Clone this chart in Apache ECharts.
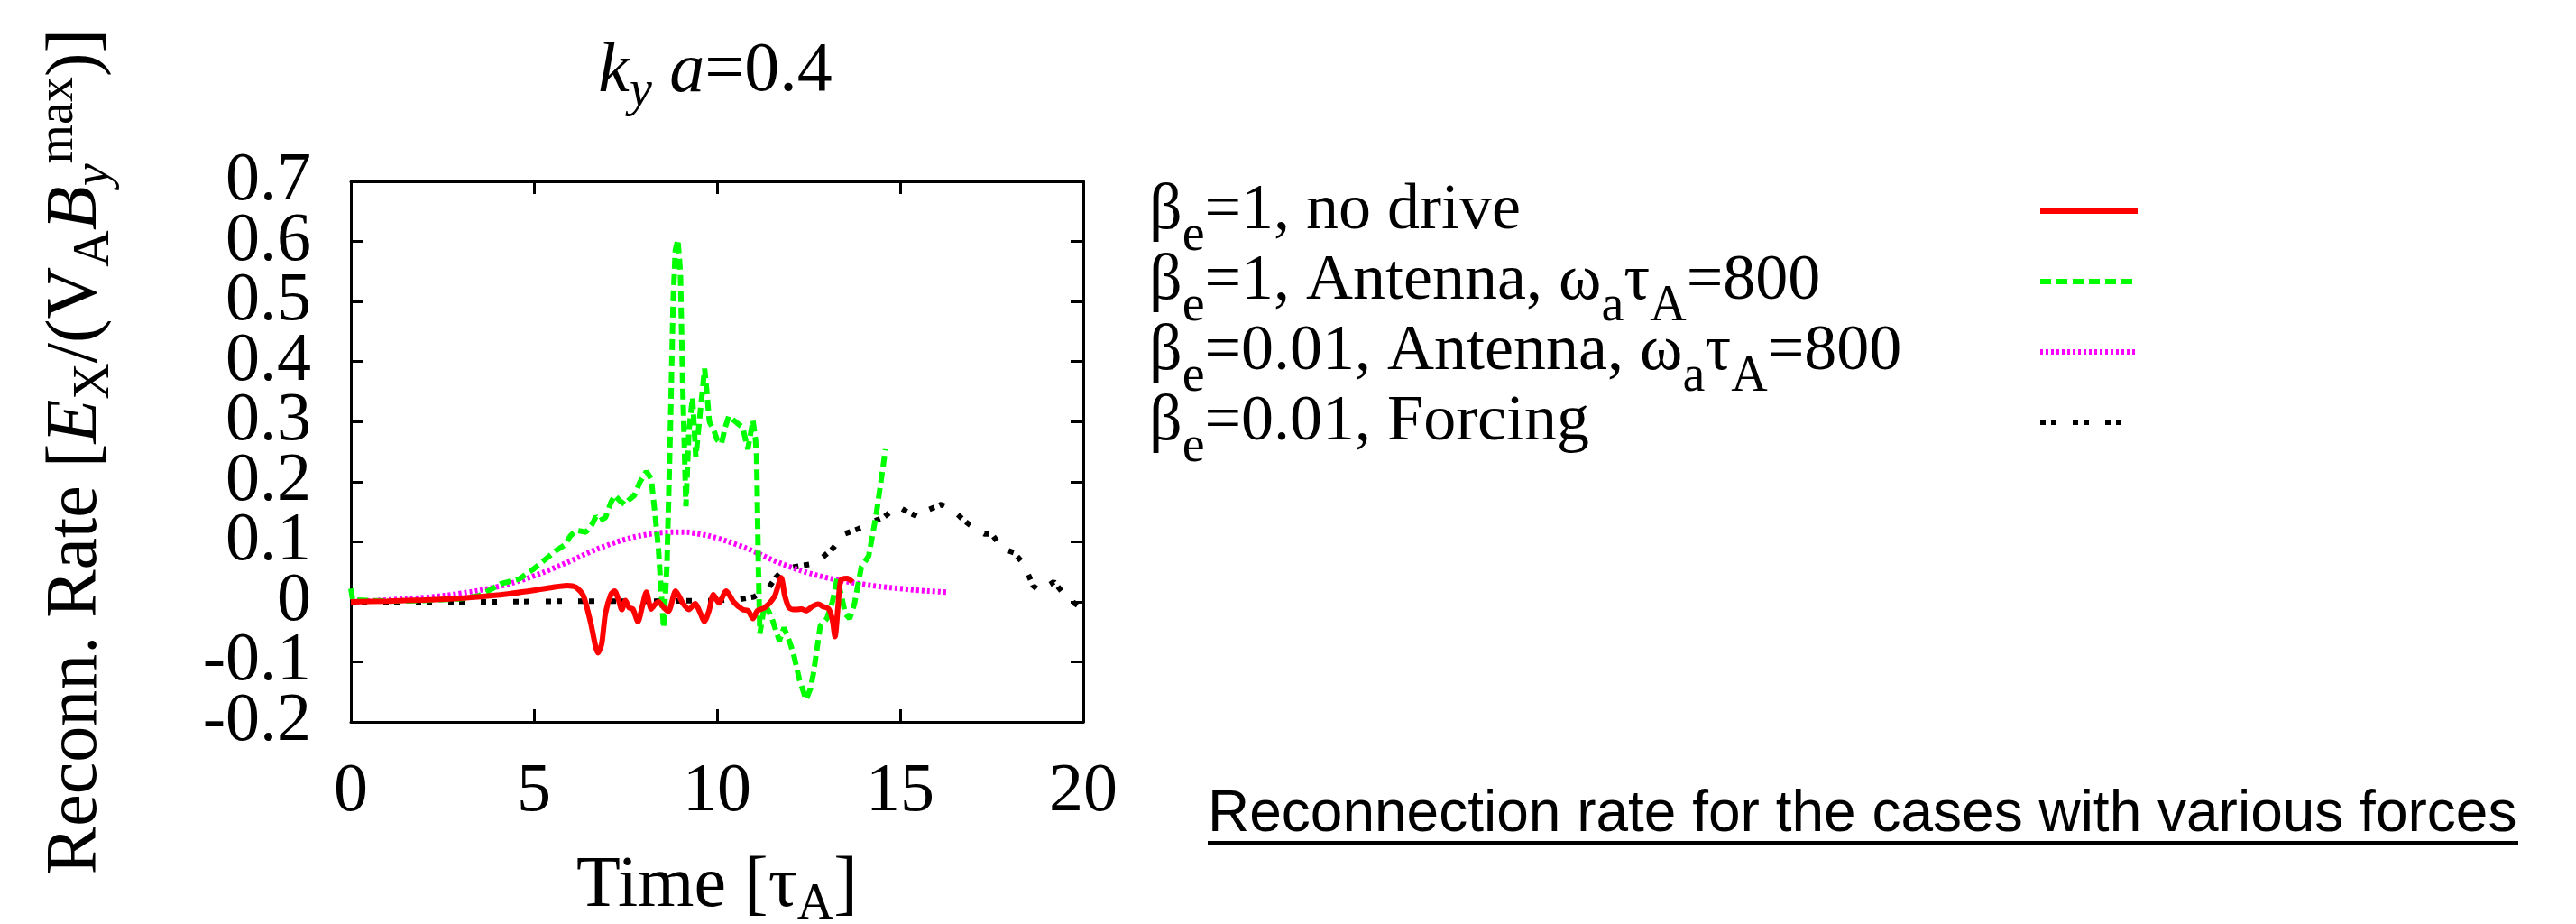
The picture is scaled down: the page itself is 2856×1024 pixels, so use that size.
<!DOCTYPE html>
<html>
<head>
<meta charset="utf-8">
<script src="https://cdn.jsdelivr.net/npm/echarts@6/dist/echarts.min.js"></script>
<style>
  html, body { margin: 0; padding: 0; background: #fff; }
  #chart { width: 2856px; height: 1024px; }
</style>
</head>
<body>
<div id="chart"></div>
<script>
// series names (legend order)
var seriesNames = [
  "βe=1, no drive",
  "βe=1, Antenna, ωaτA=800",
  "βe=0.01, Antenna, ωaτA=800",
  "βe=0.01, Forcing"
];

// [time (tau_A), reconnection rate]
var noDrive = [
  [0, 0], [1, 0.001], [2, 0.003], [3, 0.006], [4, 0.011], [5, 0.019], [5.5, 0.024],
  [5.9, 0.027], [6.15, 0.024], [6.35, 0.01], [6.55, -0.035], [6.75, -0.085], [6.85, -0.07],
  [6.95, -0.02], [7.1, 0.012], [7.2, 0.018], [7.3, 0.005], [7.4, -0.013], [7.5, 0.002],
  [7.6, -0.01], [7.7, -0.012], [7.84, -0.033], [7.95, -0.01], [8.07, 0.016], [8.2, -0.012],
  [8.3, -0.005], [8.4, 0.0], [8.55, -0.01], [8.67, -0.016], [8.87, 0.018], [9.0, 0.005],
  [9.06, -0.002], [9.23, -0.013], [9.4, -0.003], [9.55, -0.02], [9.65, -0.033], [9.78, -0.015],
  [9.9, 0.012], [10.05, -0.002], [10.25, 0.018], [10.45, 0.0], [10.7, -0.013], [10.85, -0.015],
  [10.98, -0.028], [11.1, -0.015], [11.3, -0.01], [11.57, 0.009], [11.75, 0.04], [11.85, 0.01],
  [11.97, -0.01], [12.16, -0.013], [12.3, -0.012], [12.43, -0.015], [12.6, -0.008], [12.76, -0.004],
  [12.9, -0.008], [13.05, -0.012], [13.15, -0.03], [13.22, -0.058], [13.3, -0.01], [13.38, 0.036],
  [13.55, 0.039], [13.7, 0.033]
];

var antennaHighBeta = [
  [0, 0.022], [0.05, 0.003], [1, 0.001], [2, 0.002], [3, 0.005], [3.5, 0.01], [4.1, 0.03],
  [4.6, 0.038], [5.0, 0.055], [5.3, 0.07], [5.6, 0.085], [5.83, 0.094], [6.0, 0.11], [6.16, 0.119],
  [6.42, 0.116], [6.6, 0.13], [6.69, 0.142], [6.8, 0.135], [6.95, 0.14], [7.1, 0.165], [7.2, 0.177],
  [7.35, 0.168], [7.48, 0.162], [7.6, 0.17], [7.74, 0.177], [7.9, 0.2], [8.07, 0.217], [8.2, 0.205],
  [8.3, 0.15], [8.4, 0.088], [8.47, 0.02], [8.54, -0.043], [8.63, 0.058], [8.73, 0.302], [8.8, 0.5],
  [8.86, 0.585], [8.93, 0.603], [9.0, 0.547], [9.06, 0.364], [9.15, 0.159], [9.23, 0.284],
  [9.33, 0.34], [9.42, 0.241], [9.53, 0.309], [9.66, 0.388], [9.72, 0.35], [9.79, 0.3], [9.92, 0.284],
  [10.0, 0.27], [10.12, 0.263], [10.22, 0.29], [10.32, 0.309], [10.5, 0.3], [10.7, 0.29],
  [10.84, 0.254], [10.98, 0.302], [11.05, 0.27], [11.08, 0.241], [11.13, 0.05], [11.17, -0.053],
  [11.3, -0.004], [11.4, -0.015], [11.5, -0.028], [11.7, -0.065], [11.83, -0.043], [12.0, -0.07],
  [12.1, -0.09], [12.25, -0.13], [12.43, -0.163], [12.55, -0.145], [12.63, -0.12], [12.82, -0.04],
  [13.0, -0.028], [13.15, 0.0], [13.28, 0.039], [13.4, 0.009], [13.5, -0.02], [13.62, -0.028],
  [13.75, -0.004], [13.94, 0.058], [14.14, 0.076], [14.34, 0.143], [14.47, 0.198], [14.6, 0.254]
];

var antennaLowBeta = [
  [0, 0.0], [1, 0.003], [2, 0.007], [3, 0.014], [4, 0.025], [4.5, 0.033], [5, 0.043], [5.5, 0.055],
  [6, 0.068], [6.5, 0.082], [7, 0.094], [7.5, 0.104], [8, 0.111], [8.5, 0.115], [9, 0.116],
  [9.5, 0.113], [10, 0.106], [10.5, 0.096], [11, 0.084], [11.5, 0.07], [12, 0.058], [12.5, 0.048],
  [13, 0.04], [13.5, 0.034], [14, 0.029], [14.5, 0.025], [15, 0.022], [15.5, 0.019], [16, 0.017],
  [16.3, 0.016]
];

var forcing = [
  [0, 0], [2, 0], [4, 0.0], [6, 0.001], [8, 0.001], [10, 0.002], [10.6, 0.004], [11, 0.008],
  [11.37, 0.02], [11.6, 0.04], [11.83, 0.055], [12.3, 0.06], [12.69, 0.064], [12.9, 0.075],
  [13.15, 0.088], [13.48, 0.113], [13.88, 0.122], [14.27, 0.134], [14.54, 0.14], [14.93, 0.159],
  [15.13, 0.152], [15.53, 0.14], [15.73, 0.152], [16.12, 0.162], [16.45, 0.152], [16.77, 0.134],
  [16.9, 0.128], [17.3, 0.113], [17.5, 0.113], [17.8, 0.088], [18.1, 0.082], [18.36, 0.064],
  [18.63, 0.027], [18.8, 0.018], [19.2, 0.033], [19.4, 0.018], [19.7, 0.0], [19.95, -0.01]
];

// axis ranges and tick labels
var xMin = 0, xMax = 20, xStep = 5;
var yMin = -0.2, yMax = 0.7, yStep = 0.1;
// y tick labels are split over two label-axes so ECharts does not drop neighbours of min/max
var yTicksA = [-0.2, 0, 0.2, 0.4, 0.6];
var yTicksB = [-0.1, 0.1, 0.3, 0.5, 0.7];

var SERIF = '"Liberation Serif", "DejaVu Serif", serif';

// legend text with sub/superscripts (rich text)
var legendRich = {};
legendRich[seriesNames[0]] = "{n|β}{s|e}{n|=1, no drive}";
legendRich[seriesNames[1]] = "{n|β}{s|e}{n|=1, Antenna, ω}{s|a}{n|τ}{s|A}{n|=800}";
legendRich[seriesNames[2]] = "{n|β}{s|e}{n|=0.01, Antenna, ω}{s|a}{n|τ}{s|A}{n|=800}";
legendRich[seriesNames[3]] = "{n|β}{s|e}{n|=0.01, Forcing}";

var myChart = echarts.init(document.getElementById("chart"));

function fmtY(v) {
  return Math.abs(v) < 1e-9 ? "0" : (Math.round(v * 10) / 10).toFixed(1);
}

var tickCommon = { show: true, inside: true, length: 14, lineStyle: { color: "#000", width: 3 } };
var lineCommon = { show: true, onZero: false, lineStyle: { color: "#000", width: 3 } };
var yLabelStyle = { margin: 44, color: "#000", fontFamily: SERIF, fontSize: 76, formatter: fmtY, hideOverlap: false };

var option = {
  backgroundColor: "#fff",
  animation: false,
  title: [
    {
      text: "{i|k}{is|y}{n| }{i|a}{n|=0.4}",
      left: 793,
      top: 30,
      textAlign: "center",
      padding: 0,
      textStyle: {
        fontWeight: "normal",
        rich: {
          i: { fontFamily: SERIF, fontStyle: "italic", fontWeight: "normal", fontSize: 78, lineHeight: 100, color: "#000" },
          is: { fontFamily: SERIF, fontStyle: "italic", fontWeight: "normal", fontSize: 56, lineHeight: 50, verticalAlign: "bottom", color: "#000" },
          n: { fontFamily: SERIF, fontWeight: "normal", fontSize: 78, lineHeight: 100, color: "#000" }
        }
      }
    },
    {
      text: "Reconnection rate for the cases with various forces",
      left: 1339,
      top: 871,
      padding: 0,
      textStyle: { fontFamily: '"Liberation Sans", Arial, sans-serif', fontSize: 64, fontWeight: "normal", color: "#000" }
    }
  ],
  graphic: [
    { type: "line", shape: { x1: 1339, y1: 934, x2: 2792, y2: 934 }, style: { stroke: "#000", lineWidth: 4 } }
  ],
  legend: {
    orient: "vertical",
    align: "right",
    left: 1274,
    top: 196,
    padding: 0,
    itemGap: -16,
    itemWidth: 108,
    itemHeight: 20,
    selectedMode: false,
    itemStyle: { opacity: 0 },
    lineStyle: { width: 6 },
    data: seriesNames,
    formatter: function (name) { return legendRich[name]; },
    textStyle: {
      width: 983,
      fontFamily: SERIF,
      fontSize: 72,
      lineHeight: 76,
      color: "#000",
      rich: {
        n: { fontFamily: SERIF, fontSize: 72, lineHeight: 76, align: "left", color: "#000" },
        s: { fontFamily: SERIF, fontSize: 56, lineHeight: 56, padding: [28, 0, -28, 0], verticalAlign: "middle", align: "left", color: "#000" }
      }
    }
  },
  grid: { left: 389, right: 1655, top: 201, bottom: 224, outerBoundsMode: "none" },
  xAxis: [
    {
      type: "value",
      min: xMin, max: xMax, interval: xStep,
      name: "{n|Time [}{n|τ}{s|A}{n|]}",
      nameLocation: "middle",
      nameGap: 135,
      nameTextStyle: {
        rich: {
          n: { fontFamily: SERIF, fontSize: 80, lineHeight: 96, color: "#000" },
          s: { fontFamily: SERIF, fontSize: 56, lineHeight: 40, verticalAlign: "bottom", color: "#000" }
        }
      },
      axisLine: lineCommon,
      axisTick: tickCommon,
      splitLine: { show: false },
      axisLabel: { margin: 40, color: "#000", fontFamily: SERIF, fontSize: 76, hideOverlap: false, showMinLabel: true, showMaxLabel: true }
    },
    {
      type: "value", position: "top",
      min: xMin, max: xMax, interval: xStep,
      axisLine: lineCommon, axisTick: tickCommon,
      splitLine: { show: false }, axisLabel: { show: false }
    }
  ],
  yAxis: [
    {
      type: "value",
      min: yMin, max: yMax, interval: yStep,
      name: "{n|Reconn. Rate [}{i|E}{s|X}{n|/(V}{s|A}{i|B}{is|y}{p|max}{n|)]}",
      nameLocation: "middle",
      nameRotate: 90,
      nameGap: 256,
      nameTextStyle: {
        rich: {
          n: { fontFamily: SERIF, fontSize: 80, lineHeight: 96, color: "#000" },
          i: { fontFamily: SERIF, fontStyle: "italic", fontSize: 80, lineHeight: 96, color: "#000" },
          s: { fontFamily: SERIF, fontSize: 56, lineHeight: 40, verticalAlign: "bottom", color: "#000" },
          is: { fontFamily: SERIF, fontStyle: "italic", fontSize: 56, lineHeight: 40, verticalAlign: "bottom", color: "#000" },
          p: { fontFamily: SERIF, fontSize: 56, lineHeight: 26, verticalAlign: "top", color: "#000" }
        }
      },
      axisLine: lineCommon,
      axisTick: tickCommon,
      splitLine: { show: false },
      axisLabel: Object.assign({ customValues: yTicksA }, yLabelStyle)
    },
    {
      type: "value", position: "right",
      min: yMin, max: yMax, interval: yStep,
      axisLine: lineCommon, axisTick: tickCommon,
      splitLine: { show: false }, axisLabel: { show: false }
    },
    {
      type: "value", position: "left", offset: 0,
      min: yMin, max: yMax, interval: yStep,
      axisLine: { show: false }, axisTick: { show: false },
      splitLine: { show: false },
      axisLabel: Object.assign({ customValues: yTicksB }, yLabelStyle)
    }
  ],
  series: [
    {
      name: seriesNames[0], type: "line", data: noDrive,
      symbol: "none", showSymbol: false, smooth: 0.25, z: 5,
      lineStyle: { color: "#ff0000", width: 6 }, itemStyle: { color: "#ff0000" }
    },
    {
      name: seriesNames[1], type: "line", data: antennaHighBeta,
      symbol: "none", showSymbol: false, z: 4,
      lineStyle: { color: "#00ff00", width: 6, type: [12, 6] }, itemStyle: { color: "#00ff00" }
    },
    {
      name: seriesNames[2], type: "line", data: antennaLowBeta,
      symbol: "none", showSymbol: false, smooth: true, z: 3,
      lineStyle: { color: "#ff00ff", width: 6, type: [3, 3] }, itemStyle: { color: "#ff00ff" }
    },
    {
      name: seriesNames[3], type: "line", data: forcing,
      symbol: "none", showSymbol: false, z: 2,
      lineStyle: { color: "#000000", width: 6, type: [6, 6, 6, 18] }, itemStyle: { color: "#000000" }
    }
  ]
};

myChart.setOption(option);
window.onresize = function () {
  myChart.resize();
};
</script>
</body>
</html>
